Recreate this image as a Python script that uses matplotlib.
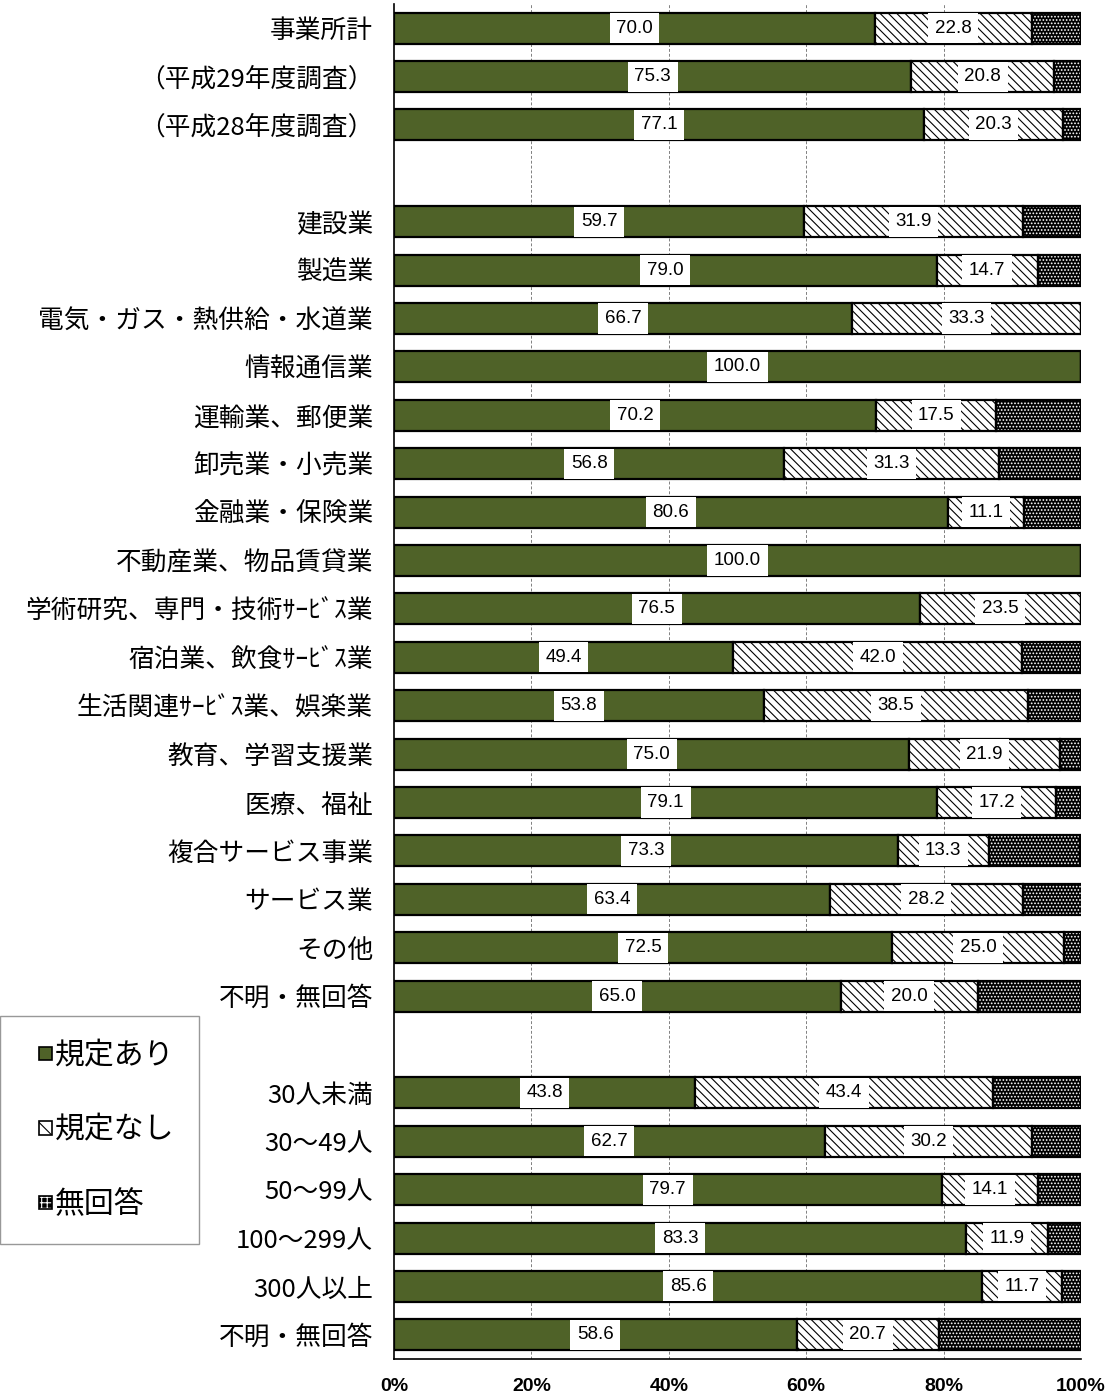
import matplotlib
matplotlib.use("Agg")
import matplotlib.pyplot as plt
from matplotlib.patches import Patch, Rectangle
from matplotlib.legend_handler import HandlerPatch
import numpy as np

plt.rcParams['font.family'] = ['Noto Sans CJK JP', 'DejaVu Sans']
plt.rcParams['hatch.linewidth'] = 0.8

categories = [
    "事業所計", "（平成29年度調査）", "（平成28年度調査）", "",
    "建設業", "製造業", "電気・ガス・熱供給・水道業", "情報通信業",
    "運輸業、郵便業", "卸売業・小売業", "金融業・保険業", "不動産業、物品賃貸業",
    "学術研究、専門・技術ｻｰﾋﾞｽ業", "宿泊業、飲食ｻｰﾋﾞｽ業", "生活関連ｻｰﾋﾞｽ業、娯楽業",
    "教育、学習支援業", "医療、福祉", "複合サービス事業", "サービス業", "その他",
    "不明・無回答", "",
    "30人未満", "30～49人", "50～99人", "100～299人", "300人以上", "不明・無回答",
]

# None marks the spacer rows between groups
with_rule = [70.0, 75.3, 77.1, None,
             59.7, 79.0, 66.7, 100.0, 70.2, 56.8, 80.6, 100.0, 76.5, 49.4, 53.8,
             75.0, 79.1, 73.3, 63.4, 72.5, 65.0, None,
             43.8, 62.7, 79.7, 83.3, 85.6, 58.6]
without_rule = [22.8, 20.8, 20.3, None,
                31.9, 14.7, 33.3, 0.0, 17.5, 31.3, 11.1, 0.0, 23.5, 42.0, 38.5,
                21.9, 17.2, 13.3, 28.2, 25.0, 20.0, None,
                43.4, 30.2, 14.1, 11.9, 11.7, 20.7]
no_answer = [7.2, 3.9, 2.6, None,
             8.4, 6.3, 0.0, 0.0, 12.3, 11.9, 8.3, 0.0, 0.0, 8.6, 7.7,
             3.1, 3.7, 13.3, 8.5, 2.5, 15.0, None,
             12.8, 7.1, 6.2, 4.8, 2.7, 20.7]

series_names = ["規定あり", "規定なし", "無回答"]
tick_labels = ["0%", "20%", "40%", "60%", "80%", "100%"]

GREEN = "#4f6228"

fig = plt.figure(figsize=(11.12, 13.98), dpi=100)
ax = fig.add_axes([394 / 1112, 1 - 1359 / 1398, 687 / 1112, 1355 / 1398])

rows = [i for i, v in enumerate(with_rule) if v is not None]
a = np.array([with_rule[i] for i in rows])
b = np.array([without_rule[i] for i in rows])
c = np.array([no_answer[i] for i in rows])
y = np.array(rows)
h = 0.64

ax.barh(y, a, height=h, color=GREEN, edgecolor="black", linewidth=1.6, zorder=3)
ax.barh(y, b, left=a, height=h, color="white", edgecolor="black",
        hatch="\\\\\\\\", linewidth=1.6, zorder=3)
# dotted black fill: white dots hatched on black, then a black outline
ax.barh(y, c, left=a + b, height=h, color="black", edgecolor="white",
        hatch=".....", linewidth=0, zorder=3)
ax.barh(y, c, left=a + b, height=h, fill=False, edgecolor="black",
        linewidth=1.6, zorder=4)

box = dict(boxstyle="square,pad=0.35", facecolor="white", edgecolor="none")
value_font = ["Liberation Sans", "DejaVu Sans"]
for yi, ai, bi in zip(y, a, b):
    ax.text(ai / 2, yi, f"{ai:.1f}", ha="center", va="center", fontsize=13.5,
            family=value_font, bbox=box, zorder=5)
    if bi > 0:
        ax.text(ai + bi / 2, yi, f"{bi:.1f}", ha="center", va="center",
                fontsize=13.5, family=value_font, bbox=box, zorder=5)

ax.set_xlim(0, 100)
ax.set_ylim(len(categories) - 0.5, -0.5)
ax.set_yticks(range(len(categories)))
ax.set_yticklabels(categories, fontsize=18.5)
ax.set_xticks(np.arange(0, 101, 20))
ax.set_xticklabels(tick_labels, fontsize=14, fontweight="bold",
                   family=["Liberation Sans Narrow", "Liberation Sans", "DejaVu Sans"])
ax.tick_params(axis="y", length=0, pad=15)
ax.tick_params(axis="x", length=0, pad=14)

for gx in [20, 40, 60, 80, 100]:
    ax.axvline(gx, color="#808080", linewidth=0.7, linestyle=(0, (3, 2)), zorder=1)

for side in ["top", "right"]:
    ax.spines[side].set_visible(False)
for side in ["left", "bottom"]:
    ax.spines[side].set_color("black")
    ax.spines[side].set_linewidth(1.2)


def small_square(legend, orig_handle, xdescent, ydescent, width, height, fontsize):
    # compact square key, pushed to the right side of the handle box
    s = 0.45 * fontsize
    return Rectangle((width - s - xdescent, (height - s) / 2 - ydescent), s, s)


handles = [
    Patch(facecolor=GREEN, edgecolor="black", linewidth=1.2),
    Patch(facecolor="white", edgecolor="black", hatch="\\\\", linewidth=1.2),
    Patch(facecolor="black", edgecolor="white", hatch="+++", linewidth=1.2),
]
leg = fig.legend(handles, series_names, loc="center left",
                 bbox_to_anchor=(0.0, 1 - 1130 / 1398), fontsize=21.5,
                 handlelength=0.95, handleheight=0.7, handletextpad=0.1,
                 labelspacing=1.45, borderpad=0.8, borderaxespad=0,
                 frameon=True, fancybox=False,
                 handler_map={Patch: HandlerPatch(patch_func=small_square)})
leg.get_frame().set_edgecolor("#7f7f7f")
leg.get_frame().set_linewidth(1.0)

# black outline for the dotted key while keeping its white grid
dot_key = leg.get_patches()[2]
dot_key.set_edgecolor("black")
if hasattr(dot_key, "set_hatchcolor"):
    dot_key.set_hatchcolor("white")
else:
    dot_key._hatch_color = (1.0, 1.0, 1.0, 1.0)

fig.savefig("out.png", dpi=100)
